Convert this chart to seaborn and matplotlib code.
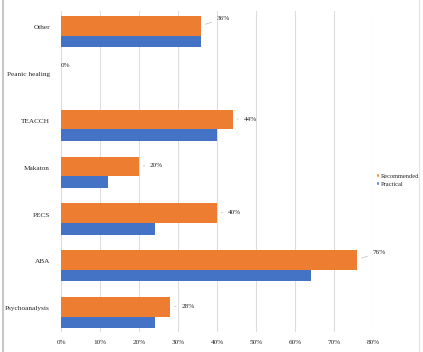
import matplotlib
matplotlib.use("Agg")
import matplotlib.pyplot as plt
import seaborn as sns
import pandas as pd
from matplotlib.lines import Line2D
from matplotlib.patches import Patch

categories = ["Other", "Peanic healing", "TEACCH", "Makaton", "PECS", "ABA", "Psychoanalysis"]
recommended = [36, 0, 44, 20, 40, 76, 28]
practical = [36, 0, 40, 12, 24, 64, 24]
series_names = ["Recommended", "Practical"]
x_ticks = [0, 10, 20, 30, 40, 50, 60, 70, 80]

df = pd.DataFrame({
    "cat": categories * 2,
    "val": recommended + practical,
    "series": [series_names[0]] * len(categories) + [series_names[1]] * len(categories),
})

sns.set_style("white")
plt.rcParams["font.family"] = ["Liberation Serif", "DejaVu Serif"]

fig = plt.figure(figsize=(4.23, 3.52), dpi=100)
ax = fig.add_axes([61 / 423, 1 - 332 / 352, (373 - 61) / 423, (332 - 11) / 352])

palette = {"Recommended": "#ED7D31", "Practical": "#4472C4"}
sns.barplot(data=df, y="cat", x="val", hue="series", order=categories,
            hue_order=series_names, palette=palette, dodge=True, width=0.8,
            ax=ax, legend=False, saturation=1, linewidth=0)

# reshape bars: orange above, blue below (Excel-like)
for p in ax.patches:
    fc = p.get_facecolor()
    y = p.get_y()
    h = p.get_height()
    is_orange = fc[0] > 0.8
    c = round(y + h / 2 + (0.2 if is_orange else -0.2))
    p.set_linewidth(0)
    if is_orange:
        p.set_y(c - 0.24)
        p.set_height(0.42)
    else:
        p.set_y(c + 0.17)
        p.set_height(0.26)
    p.set_zorder(3 if is_orange else 2)

ax.set_xlim(0, 80)
ax.set_ylim(6.51, -0.35)
ax.set_xticks(x_ticks)
ax.set_xticklabels([f"{t}%" for t in x_ticks], fontsize=5.2)
ax.tick_params(axis="x", length=0, pad=6)
ax.tick_params(axis="y", length=0, pad=8, labelsize=5.2)
ax.set_xlabel("")
ax.set_ylabel("")
ax.grid(axis="x", color="#dddddd", linewidth=0.8)
ax.set_axisbelow(True)
for s in ax.spines.values():
    s.set_visible(False)

# value labels for Recommended with leader lines
for i, v in enumerate(recommended):
    yc = i - 0.04
    if v == 0:
        ax.annotate(f"{v}%", xy=(0, yc), xytext=(0, 5), textcoords="offset points",
                    fontsize=5.2, va="center", ha="left")
        continue
    diag = v in (36, 76)
    off = (11, 5) if diag else (8, 0)
    ax.annotate(f"{v}%", xy=(v, yc), xytext=off, textcoords="offset points",
                fontsize=5.2, va="center", ha="left",
                arrowprops=dict(arrowstyle="-", color="#bbbbbb", lw=0.5,
                                shrinkA=1.5, shrinkB=3))

# legend
handles = [Patch(facecolor=palette[s], label=s) for s in series_names]
fig.legend(handles=handles, loc="center left", bbox_to_anchor=(373 / 423, 1 - 180 / 352),
           frameon=False, fontsize=4.6, handlelength=0.5, handleheight=0.5,
           handletextpad=0.3, labelspacing=0.45, borderaxespad=0)

fig.add_artist(Line2D([2.5 / 423, 2.5 / 423], [0, 1], transform=fig.transFigure,
                      color="#c8c8c8", linewidth=1.5))
fig.add_artist(Line2D([419 / 423, 419 / 423], [0, 1], transform=fig.transFigure,
                      color="#e4e4e4", linewidth=0.8))

fig.savefig("out.png", dpi=100)
